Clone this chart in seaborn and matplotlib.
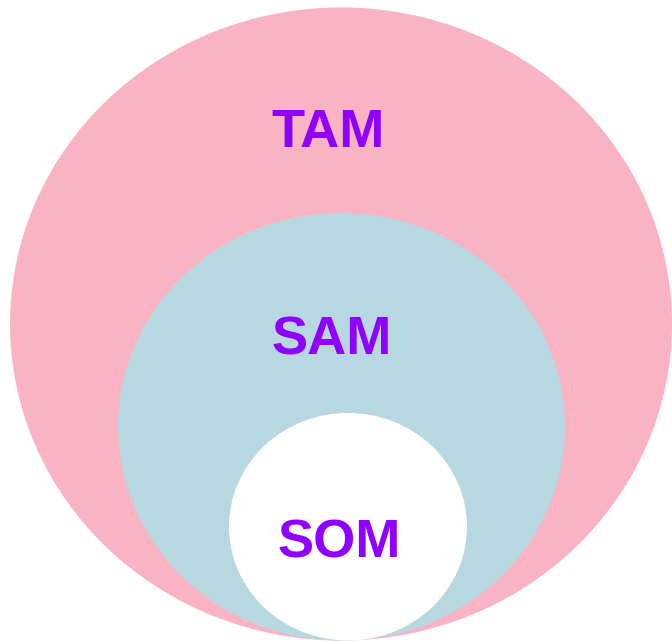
import matplotlib
matplotlib.use("Agg")
import matplotlib.pyplot as plt
from matplotlib.patches import Ellipse
import seaborn as sns

# nested market circles, all tangent at the bottom
labels = ["TAM", "SAM", "SOM"]
radius = [331, 223.5, 119]
center_x = [341, 341.5, 348]
label_x = [328, 331.5, 339.5]
label_y = [516, 299, 87]
colors = ["#F9B3C2", "#B7D8E0", "#FFFFFF"]

sns.set_theme(style="white")
plt.rcParams["font.family"] = ["Liberation Sans", "DejaVu Sans"]

fig = plt.figure(figsize=(6.72, 6.41), dpi=100)
ax = fig.add_axes([0, 0, 1, 1])

for r, cx, c in zip(radius, center_x, colors):
    ax.add_patch(Ellipse((cx, r), 2 * r, 2 * r, facecolor=c, edgecolor="none"))

for lab, x, y in zip(labels, label_x, label_y):
    ax.text(x, y, lab, ha="center", va="baseline", fontsize=39,
            fontweight="bold", color="#8F00FF")

# vertical scale is a bit squashed in the reference
ax.set_xlim(0, 672)
ax.set_ylim(-0.5, 641 / 0.957)
ax.axis("off")

fig.savefig("out.png", dpi=100)
